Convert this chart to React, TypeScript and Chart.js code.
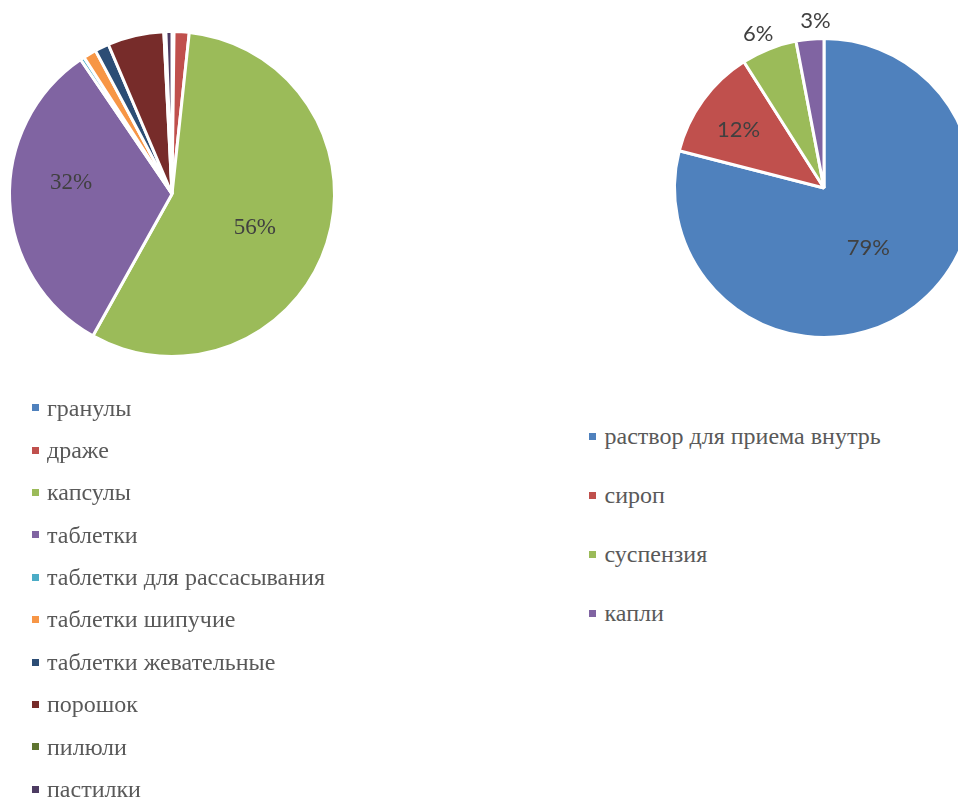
import React, { useEffect, useRef, useState } from "react";
import { Chart, registerables } from "chart.js";

Chart.register(...registerables);

// ---- Data: left pie (solid dosage forms) ----
const leftCategories = [
  "гранулы",
  "драже",
  "капсулы",
  "таблетки",
  "таблетки для рассасывания",
  "таблетки шипучие",
  "таблетки жевательные",
  "порошок",
  "пилюли",
  "пастилки",
];
const leftValues = [0.2, 1.5, 56.4, 32.4, 0.4, 1.3, 1.4, 5.6, 0.2, 0.6];
const leftColors = [
  "#4F81BD",
  "#C0504D",
  "#9BBB59",
  "#8064A2",
  "#4BACC6",
  "#F79646",
  "#2C4D75",
  "#772C2A",
  "#5F7530",
  "#4D3B62",
];
// label placement: radius as fraction of pie radius (null = no label), angle shift in degrees
const leftLabelRadius = [null, null, 0.55, 0.625, null, null, null, null, null, null];
const leftLabelShift = [0, 0, 4.4, 8.5, 0, 0, 0, 0, 0, 0];

// ---- Data: right pie (liquid dosage forms) ----
const rightCategories = ["раствор для приема внутрь", "сироп", "суспензия", "капли"];
const rightValues = [79, 12, 6, 3];
const rightColors = ["#4F81BD", "#C0504D", "#9BBB59", "#8064A2"];
const rightLabelRadius = [0.5, 0.69, 1.12, 1.12];
const rightLabelShift = [1.5, -2, -1.5, 2.5];

const pctLabelPlugin = {
  id: "pctLabels",
  afterDatasetsDraw(chart: any, _args: any, opts: any) {
    const ctx = chart.ctx;
    const ds = chart.data.datasets[0];
    const total = ds.data.reduce((a: number, b: number) => a + b, 0);
    const meta = chart.getDatasetMeta(0);
    ctx.save();
    ctx.font = opts.font;
    ctx.fillStyle = opts.color;
    ctx.textAlign = "center";
    ctx.textBaseline = "middle";
    meta.data.forEach((arc: any, i: number) => {
      const f = opts.radius[i];
      if (f == null) return;
      const p = arc.getProps(["x", "y", "startAngle", "endAngle", "outerRadius"], true);
      const mid = (p.startAngle + p.endAngle) / 2 + ((opts.shift[i] || 0) * Math.PI) / 180;
      const r = p.outerRadius * f;
      const x = p.x + Math.cos(mid) * r;
      const y = p.y + Math.sin(mid) * r;
      const pct = Math.round((ds.data[i] / total) * 100);
      ctx.fillText(pct + "%", x, y);
    });
    ctx.restore();
  },
};

type LegendItem = { text: string; color: string };

function PieCanvas(props: {
  labels: string[];
  values: number[];
  colors: string[];
  labelRadius: (number | null)[];
  labelShift: number[];
  font: string;
  radius: number;
  width: number;
  height: number;
  style: React.CSSProperties;
  onLegend: (items: LegendItem[]) => void;
}) {
  const ref = useRef<HTMLCanvasElement | null>(null);
  useEffect(() => {
    if (!ref.current) return;
    const chart = new Chart(ref.current, {
      type: "pie",
      data: {
        labels: props.labels,
        datasets: [
          {
            data: props.values,
            backgroundColor: props.colors,
            borderColor: "#ffffff",
            borderWidth: 3,
            hoverBorderWidth: 3,
          },
        ],
      },
      options: {
        responsive: false,
        animation: false,
        radius: props.radius,
        layout: { padding: 0 },
        events: [],
        plugins: {
          legend: { display: false },
          tooltip: { enabled: false },
          pctLabels: {
            font: props.font,
            color: "#404040",
            radius: props.labelRadius,
            shift: props.labelShift,
          },
        } as any,
      } as any,
      plugins: [pctLabelPlugin],
    });
    const gen = (Chart as any).overrides.pie.plugins.legend.labels.generateLabels(chart);
    props.onLegend(gen.map((g: any) => ({ text: g.text, color: g.fillStyle })));
    return () => chart.destroy();
  }, []);
  return (
    <canvas
      ref={ref}
      width={props.width}
      height={props.height}
      style={{ position: "absolute", width: props.width, height: props.height, ...props.style }}
    />
  );
}

function Legend(props: { items: LegendItem[]; left: number; top: number; rowHeight: number }) {
  return (
    <div style={{ position: "absolute", left: props.left, top: props.top }}>
      {props.items.map((it, i) => (
        <div
          key={i}
          style={{
            height: props.rowHeight,
            display: "flex",
            alignItems: "center",
            whiteSpace: "nowrap",
          }}
        >
          <span
            style={{ display: "inline-block", width: 7, height: 7, background: it.color, marginRight: 8.5 }}
          />
          <span
            style={{
              fontFamily: '"Liberation Serif", "Times New Roman", serif',
              fontSize: 24,
              lineHeight: props.rowHeight + "px",
              color: "#595959",
            }}
          >
            {it.text}
          </span>
        </div>
      ))}
    </div>
  );
}

export default function App() {
  const [leftLegend, setLeftLegend] = useState<LegendItem[]>([]);
  const [rightLegend, setRightLegend] = useState<LegendItem[]>([]);
  return (
    <div
      style={{
        position: "absolute",
        left: 0,
        top: 0,
        width: 958,
        height: 798,
        overflow: "hidden",
        background: "#ffffff",
      }}
    >
      <PieCanvas
        labels={leftCategories}
        values={leftValues}
        colors={leftColors}
        labelRadius={leftLabelRadius}
        labelShift={leftLabelShift}
        font='23px "Liberation Serif"'
        radius={162.5}
        width={344}
        height={388}
        style={{ left: 0, top: 0 }}
        onLegend={setLeftLegend}
      />
      <PieCanvas
        labels={rightCategories}
        values={rightValues}
        colors={rightColors}
        labelRadius={rightLabelRadius}
        labelShift={rightLabelShift}
        font="22px Lato"
        radius={149.5}
        width={340}
        height={376}
        style={{ left: 654, top: 0 }}
        onLegend={setRightLegend}
      />
      <Legend items={leftLegend} left={31.5} top={386.5} rowHeight={42.4} />
      <Legend items={rightLegend} left={589} top={407.3} rowHeight={58.8} />
    </div>
  );
}
